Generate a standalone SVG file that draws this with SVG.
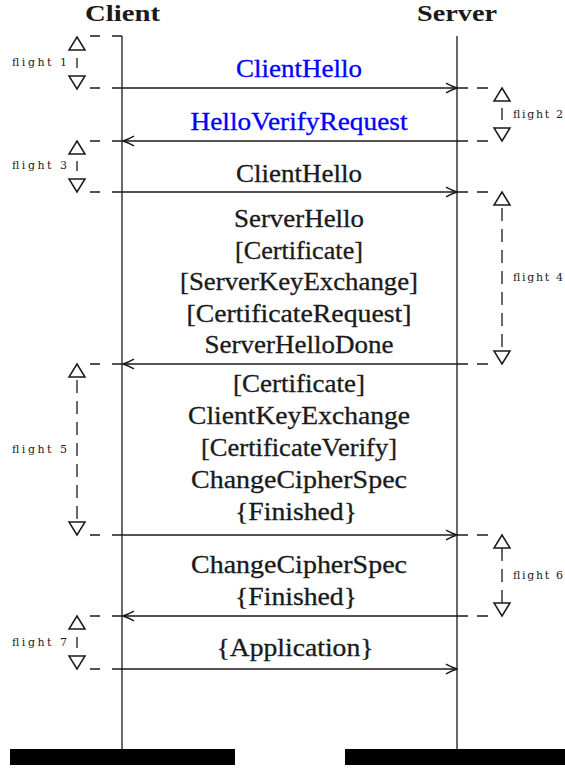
<svg xmlns="http://www.w3.org/2000/svg" width="565" height="769" viewBox="0 0 565 769">
<style>
  .life { stroke:#1a1a1a; stroke-width:1.3; fill:none; }
  .msg { stroke:#1a1a1a; stroke-width:1.3; fill:none; }
  .dashc { stroke:#1a1a1a; stroke-width:1.3; stroke-dasharray:10 12; fill:none; }
  .dashs { stroke:#1a1a1a; stroke-width:1.3; stroke-dasharray:11 9; fill:none; }
  .vd { stroke:#1a1a1a; stroke-width:1.3; stroke-dasharray:13 8; fill:none; }
  .tri { stroke:#1a1a1a; stroke-width:1.5; fill:#fff; stroke-linejoin:miter; }
  .hdr { font-family:"Liberation Serif","DejaVu Serif",serif; font-weight:bold; font-size:23px; fill:#1a1a1a; text-anchor:middle; }
  .t { font-family:"Liberation Serif","DejaVu Serif",serif; font-size:24.5px; fill:#1a1a1a; stroke:#1a1a1a; stroke-width:0.3; text-anchor:middle; }
  .blue { fill:#0000ff; stroke:#0000ff; }
  .fl { font-family:"DejaVu Serif","Liberation Serif",serif; font-size:11px; fill:#1a1a2a; }
  .bar { fill:#000; }
</style>
<defs>
  <marker id="arr" viewBox="-12 -6 13 12" refX="0" refY="0" markerWidth="13" markerHeight="12" markerUnits="userSpaceOnUse" orient="auto">
    <path d="M-11,-4.8 C-6,-2 -2,-0.6 0,0 C-2,0.6 -6,2 -11,4.8" stroke="#1a1a1a" stroke-width="1.4" fill="none"/>
  </marker>
</defs>

<g id="client">
  <text class="hdr" x="122.5" y="21" textLength="75" lengthAdjust="spacingAndGlyphs">Client</text>
  <line class="life" x1="122" y1="36" x2="122" y2="750"/>
  <rect class="bar" x="10" y="749" width="225" height="16"/>
</g>
<g id="server">
  <text class="hdr" x="457" y="21" textLength="80" lengthAdjust="spacingAndGlyphs">Server</text>
  <line class="life" x1="457" y1="36" x2="457" y2="750"/>
  <rect class="bar" x="345" y="749" width="220" height="16"/>
</g>

<g id="connectors">
  <line class="msg" x1="122" y1="88" x2="457" y2="88" marker-end="url(#arr)"/>
  <line class="msg" x1="457" y1="141" x2="123" y2="141" marker-end="url(#arr)"/>
  <line class="msg" x1="122" y1="192" x2="457" y2="192" marker-end="url(#arr)"/>
  <line class="msg" x1="457" y1="364" x2="123" y2="364" marker-end="url(#arr)"/>
  <line class="msg" x1="122" y1="535" x2="457" y2="535" marker-end="url(#arr)"/>
  <line class="msg" x1="457" y1="616" x2="123" y2="616" marker-end="url(#arr)"/>
  <line class="msg" x1="122" y1="669" x2="457" y2="669" marker-end="url(#arr)"/>
</g>

<g id="messages">
  <text class="t blue" x="299" y="77" textLength="126" lengthAdjust="spacingAndGlyphs">ClientHello</text>
  <text class="t blue" x="299" y="130" textLength="217" lengthAdjust="spacingAndGlyphs">HelloVerifyRequest</text>
  <text class="t" x="299" y="182" textLength="126" lengthAdjust="spacingAndGlyphs">ClientHello</text>
  <text class="t" x="299" y="227" textLength="130" lengthAdjust="spacingAndGlyphs">ServerHello</text>
  <text class="t" x="299" y="259" textLength="128" lengthAdjust="spacingAndGlyphs">[Certificate]</text>
  <text class="t" x="299" y="290" textLength="238" lengthAdjust="spacingAndGlyphs">[ServerKeyExchange]</text>
  <text class="t" x="299" y="322" textLength="225" lengthAdjust="spacingAndGlyphs">[CertificateRequest]</text>
  <text class="t" x="299" y="353" textLength="189" lengthAdjust="spacingAndGlyphs">ServerHelloDone</text>
  <text class="t" x="299" y="392" textLength="132" lengthAdjust="spacingAndGlyphs">[Certificate]</text>
  <text class="t" x="299" y="424" textLength="222" lengthAdjust="spacingAndGlyphs">ClientKeyExchange</text>
  <text class="t" x="299" y="456" textLength="196" lengthAdjust="spacingAndGlyphs">[CertificateVerify]</text>
  <text class="t" x="299" y="488" textLength="216" lengthAdjust="spacingAndGlyphs">ChangeCipherSpec</text>
  <text class="t" x="296" y="520" textLength="122" lengthAdjust="spacingAndGlyphs">{Finished}</text>
  <text class="t" x="299" y="573" textLength="216" lengthAdjust="spacingAndGlyphs">ChangeCipherSpec</text>
  <text class="t" x="296" y="605" textLength="122" lengthAdjust="spacingAndGlyphs">{Finished}</text>
  <text class="t" x="295" y="656" textLength="157" lengthAdjust="spacingAndGlyphs">{Application}</text>
</g>

<g id="flight1">
  <line class="dashc" x1="90" y1="36" x2="122" y2="36"/>
  <line class="dashc" x1="90" y1="88" x2="122" y2="88"/>
  <path class="tri" d="M77,37 L85,50 L69,50 Z"/>
  <line class="life" x1="77" y1="58" x2="77" y2="68"/>
  <path class="tri" d="M69,76 L85,76 L77,89 Z"/>
  <text class="fl" x="12" y="66" textLength="55" lengthAdjust="spacing">flight 1</text>
</g>
<g id="flight2">
  <line class="dashs" x1="457" y1="88" x2="489" y2="88"/>
  <line class="dashs" x1="457" y1="141" x2="489" y2="141"/>
  <path class="tri" d="M502,88 L510,101 L494,101 Z"/>
  <line class="life" x1="502" y1="108" x2="502" y2="120"/>
  <path class="tri" d="M494,128 L510,128 L502,141 Z"/>
  <text class="fl" x="513" y="118" textLength="50" lengthAdjust="spacing">flight 2</text>
</g>
<g id="flight3">
  <line class="dashc" x1="90" y1="141" x2="122" y2="141"/>
  <line class="dashc" x1="90" y1="192" x2="122" y2="192"/>
  <path class="tri" d="M77,141 L85,154 L69,154 Z"/>
  <line class="life" x1="77" y1="161" x2="77" y2="171"/>
  <path class="tri" d="M69,179 L85,179 L77,192 Z"/>
  <text class="fl" x="12" y="169" textLength="55" lengthAdjust="spacing">flight 3</text>
</g>
<g id="flight4">
  <line class="dashs" x1="457" y1="192" x2="489" y2="192"/>
  <line class="dashs" x1="457" y1="364" x2="489" y2="364"/>
  <path class="tri" d="M502,192 L510,205 L494,205 Z"/>
  <line class="vd" x1="502" y1="208" x2="502" y2="348"/>
  <path class="tri" d="M494,351 L510,351 L502,364 Z"/>
  <text class="fl" x="513" y="281" textLength="50" lengthAdjust="spacing">flight 4</text>
</g>
<g id="flight5">
  <line class="dashc" x1="90" y1="364" x2="122" y2="364"/>
  <line class="dashc" x1="90" y1="535" x2="122" y2="535"/>
  <path class="tri" d="M77,364 L85,377 L69,377 Z"/>
  <line class="vd" x1="77" y1="380" x2="77" y2="519"/>
  <path class="tri" d="M69,522 L85,522 L77,535 Z"/>
  <text class="fl" x="12" y="453" textLength="55" lengthAdjust="spacing">flight 5</text>
</g>
<g id="flight6">
  <line class="dashs" x1="457" y1="535" x2="489" y2="535"/>
  <line class="dashs" x1="457" y1="616" x2="489" y2="616"/>
  <path class="tri" d="M502,535 L510,548 L494,548 Z"/>
  <line class="vd" x1="502" y1="548" x2="502" y2="603"/>
  <path class="tri" d="M494,603 L510,603 L502,616 Z"/>
  <text class="fl" x="513" y="579" textLength="50" lengthAdjust="spacing">flight 6</text>
</g>
<g id="flight7">
  <line class="dashc" x1="90" y1="616" x2="122" y2="616"/>
  <line class="dashc" x1="90" y1="669" x2="122" y2="669"/>
  <path class="tri" d="M77,616 L85,629 L69,629 Z"/>
  <line class="life" x1="77" y1="637" x2="77" y2="648"/>
  <path class="tri" d="M69,656 L85,656 L77,669 Z"/>
  <text class="fl" x="12" y="646" textLength="55" lengthAdjust="spacing">flight 7</text>
</g>
</svg>
